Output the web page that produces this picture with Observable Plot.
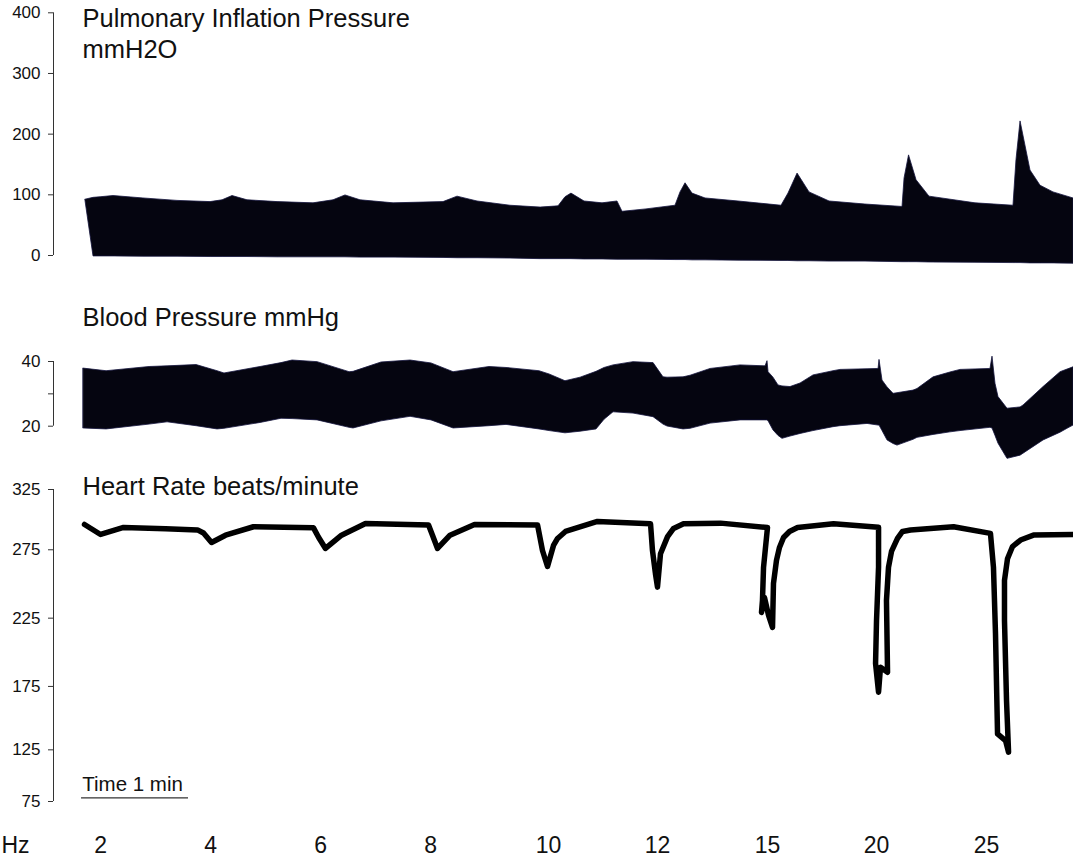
<!DOCTYPE html>
<html><head><meta charset="utf-8">
<script src="https://cdn.jsdelivr.net/npm/d3@7"></script>
<script src="https://cdn.jsdelivr.net/npm/@observablehq/plot@0.6"></script>
<style>
html,body{margin:0;padding:0;background:#fff;}
#chart{position:relative;width:1073px;height:860px;overflow:hidden;}
#chart svg{position:absolute;left:0;}
</style></head><body><div id="chart"></div>
<script>
// ---- data (time in minutes) ----
const piTime = [0.037,0.112,0.178,0.299,0.579,0.897,1.206,1.318,1.411,1.551,1.832,2.168,2.355,2.467,2.607,2.916,3.383,3.514,3.701,4.009,4.290,4.458,4.523,4.579,4.701,4.869,5.009,5.056,5.280,5.551,5.598,5.645,5.710,5.832,6.140,6.542,6.607,6.692,6.804,6.991,7.327,7.673,7.692,7.734,7.804,7.925,8.355,8.710,8.738,8.776,8.869,8.963,9.084,9.271];
const piHigh = [92,95,96,98,94,90,88,91,98,91,88,86,91,99,91,86,88,97,89,82,79,81,96,102,89,86,89,72,76,82,104,119,102,94,89,82,102,135,104,89,84,80,127,165,124,97,86,82,157,221,140,115,104,94];
const piLow  = [90,-1.5,-1.5,-1.5,-2,-2,-2.5,-2.5,-2.5,-2.5,-3,-3,-3,-3,-3.5,-3.5,-4,-4.5,-4.5,-5,-6,-6,-6,-6,-6.5,-6.5,-7,-7,-7,-7.5,-7.5,-7.5,-8,-8,-8.5,-9,-9,-9.5,-9.5,-10,-10,-11,-11,-11,-11,-11.5,-12,-12.5,-12.5,-12.5,-13,-13,-13,-13.5];

const bpTime = [0.019,0.234,0.636,0.804,1.075,1.271,1.336,1.673,1.869,1.972,2.206,2.505,2.542,2.804,3.075,3.271,3.477,3.813,3.972,4.280,4.374,4.523,4.664,4.813,4.888,4.972,5.159,5.346,5.439,5.477,5.626,5.692,5.879,6.159,6.393,6.411,6.421,6.467,6.514,6.551,6.626,6.720,6.841,7.028,7.093,7.346,7.449,7.458,7.486,7.533,7.589,7.626,7.776,7.813,7.963,8.121,8.215,8.495,8.514,8.542,8.570,8.654,8.776,8.804,8.991,9.150,9.215,9.271];
const bpHigh = [37.8,37.0,38.3,38.5,38.9,37.0,36.3,38.3,39.5,40.3,39.8,36.7,36.8,39.7,40.3,39.4,36.7,38.3,38.0,37.0,36.0,33.9,35.0,36.8,38.0,38.8,39.8,39.5,35.1,35.0,35.1,35.6,37.7,38.8,38.5,40.1,36.7,35.0,32.6,32.3,32.1,33.2,35.7,37.0,37.4,37.6,37.7,40.5,34.1,32.0,30.0,30.2,31.0,31.5,35.1,36.6,37.4,37.7,41.5,33.1,29.0,25.4,25.8,26.4,32.1,36.7,37.5,38.2];
const bpLow  = [19.3,19.0,20.5,21.2,20.0,19.0,19.2,21.0,22.3,22.2,21.8,19.5,19.3,21.5,22.9,21.8,19.3,20.0,20.4,19.0,18.5,17.8,18.3,19.0,22.0,24.3,23.9,22.8,20.5,19.9,19.0,19.2,20.8,21.8,21.8,21.8,21.5,18.7,17.0,16.1,16.8,17.6,18.5,19.7,20.0,20.7,20.2,20.2,18.5,15.6,14.5,14.0,15.8,16.4,17.3,18.1,18.5,19.5,19.3,17.0,14.6,9.9,10.9,11.5,15.6,18.0,19.2,20.2];

const hrTime = [0.028,0.178,0.393,0.785,1.084,1.140,1.215,1.346,1.607,2.168,2.215,2.280,2.430,2.654,3.243,3.280,3.327,3.444,3.673,4.262,4.308,4.355,4.411,4.449,4.523,4.822,5.318,5.336,5.364,5.383,5.411,5.477,5.533,5.626,5.972,6.411,6.374,6.364,6.355,6.383,6.421,6.458,6.467,6.495,6.523,6.561,6.617,6.692,7.028,7.449,7.449,7.430,7.421,7.449,7.467,7.533,7.523,7.542,7.570,7.626,7.673,7.748,8.150,8.495,8.523,8.542,8.561,8.636,8.664,8.645,8.626,8.626,8.654,8.701,8.776,8.897,9.271];
const hrRate = [296.0,287.7,293.5,292.4,291.5,288.9,281.0,287.1,294.1,293.2,285.4,276.1,287.1,296.8,295.5,287.1,276.1,287.1,296.0,295.5,274.5,262.8,278.6,284.4,290.2,298.5,296.5,274.5,257.5,247.7,272.1,285.9,292.7,296.6,297.1,293.5,262.1,237.9,229.2,240.1,227.0,218.2,250.4,267.2,276.9,285.2,290.2,293.5,296.5,293.7,262.3,223.3,191.8,170.5,189.1,185.4,237.9,262.3,273.8,284.4,290.2,291.4,294.1,288.6,262.3,213.6,137.6,132.3,122.7,163.9,223.3,252.6,268.4,277.7,283.1,287.2,287.7];

const piTicks = [0,100,200,300,400];
const bpTicks = [20,30,40];
const bpTickLabels = ["20","","40"];
const hrTicks = [75,125,175,225,275,325];
// the hand-drawn heart-rate axis is unevenly spaced: where each tick sits on a uniform 75–325 ruler
const hrTickSpots = [75,116.4,167.2,221.9,276.7,325];
const hzLabels = ["2","4","6","8","10","12","15","20","25"];
const hzTime = [0.178,1.206,2.234,3.262,4.364,5.383,6.411,7.430,8.458];
const timeBarMinutes = [0,1];

// ---- helpers ----
const FONT = "'Liberation Sans', Arial, Helvetica, sans-serif";
const TITLE = 25.5;
const xDomain = [-0.262, 9.271];
const ink = "#050510";
const axisInk = "#333";
const base = {width:1073, marginLeft:53, marginRight:0, style:{fontFamily:FONT, background:"transparent", overflow:"visible"}};
const chart = document.getElementById("chart");
function place(svg, top){ svg.style.top = top + "px"; chart.appendChild(svg); }
const hrWarp = d3.scaleLinear().domain(hrTicks).range(hrTickSpots);

const piRows = piTime.map((t,i)=>({t, hi:piHigh[i], lo:piLow[i]}));
const bpRows = bpTime.map((t,i)=>({t, hi:bpHigh[i], lo:bpLow[i]}));
const hrRows = hrTime.map((t,i)=>({t, rate:hrRate[i]}));
const hzRows = hzLabels.map((label,i)=>({t:hzTime[i], label}));
const axisOpts = {tickSize:5, tickPadding:8, fontSize:17, label:null, stroke:axisInk, fill:"#111"};

// ---- panel 1: pulmonary inflation pressure ----
place(Plot.plot({...base, height:280, marginTop:12.3, marginBottom:25,
  x:{domain:xDomain, axis:null},
  y:{domain:[0,400], axis:null},
  marks:[
    Plot.areaY(piRows, {x:"t", y1:"lo", y2:"hi", fill:ink, stroke:"#14143c", strokeWidth:0.8}),
    Plot.ruleX([xDomain[0]], {y1:piTicks[0], y2:piTicks[piTicks.length-1], stroke:axisInk}),
    Plot.axisY({...axisOpts, ticks:piTicks}),
    Plot.text(["Pulmonary Inflation Pressure"], {frameAnchor:"top-left", dx:29, dy:14.4, lineAnchor:"bottom", textAnchor:"start", fontSize:TITLE, fill:"#111"}),
    Plot.text(["mmH2O"], {frameAnchor:"top-left", dx:29, dy:45, lineAnchor:"bottom", textAnchor:"start", fontSize:TITLE, fill:"#111"})
  ]}), 0);

// ---- panel 2: blood pressure ----
place(Plot.plot({...base, height:190, marginTop:81, marginBottom:44.3,
  x:{domain:xDomain, axis:null},
  y:{domain:[20,40], axis:null},
  marks:[
    Plot.areaY(bpRows, {x:"t", y1:"lo", y2:"hi", fill:ink, stroke:"#14143c", strokeWidth:0.8}),
    Plot.ruleX([xDomain[0]], {y1:bpTicks[0], y2:bpTicks[bpTicks.length-1], stroke:axisInk}),
    Plot.axisY({...axisOpts, ticks:bpTicks, tickFormat:(d)=>bpTickLabels[bpTicks.indexOf(d)]}),
    Plot.text(["Blood Pressure mmHg"], {frameAnchor:"top-left", dx:29, dy:-36, lineAnchor:"bottom", textAnchor:"start", fontSize:TITLE, fill:"#111"})
  ]}), 280);

// ---- panel 3: heart rate ----
place(Plot.plot({...base, height:390, marginTop:19, marginBottom:59,
  x:{domain:xDomain, axis:null},
  y:{domain:[hrTicks[0], hrTicks[hrTicks.length-1]], transform:hrWarp, axis:null},
  marks:[
    Plot.line(hrRows, {x:"t", y:"rate", stroke:"#000", strokeWidth:5.5, strokeLinejoin:"round", strokeLinecap:"round"}),
    Plot.ruleX([xDomain[0]], {y1:hrTicks[0], y2:hrTicks[hrTicks.length-1], stroke:axisInk}),
    Plot.axisY({...axisOpts, ticks:hrTickSpots, tickFormat:(d)=>String(hrTicks[hrTickSpots.indexOf(d)])}),
    Plot.text(["Heart Rate beats/minute"], {frameAnchor:"top-left", dx:29, dy:5, lineAnchor:"bottom", textAnchor:"start", fontSize:TITLE, fill:"#111"}),
    Plot.ruleY([hrTicks[0]], {x1:timeBarMinutes[0], x2:timeBarMinutes[1], dy:-3.7, stroke:"#333", strokeWidth:1.2}),
    Plot.text(["Time 1 min"], {x:timeBarMinutes[0], y:hrTicks[0], dx:0.7, dy:-11, lineAnchor:"bottom", textAnchor:"start", fontSize:20.5, fill:"#111"}),
    Plot.text(hzRows, {x:"t", text:"label", frameAnchor:"bottom", dy:51, lineAnchor:"bottom", fontSize:23, fill:"#111"}),
    Plot.text(["Hz"], {frameAnchor:"bottom-left", dx:-38, dy:51, lineAnchor:"bottom", textAnchor:"middle", fontSize:23, fill:"#111"})
  ]}), 470);
</script></body></html>
